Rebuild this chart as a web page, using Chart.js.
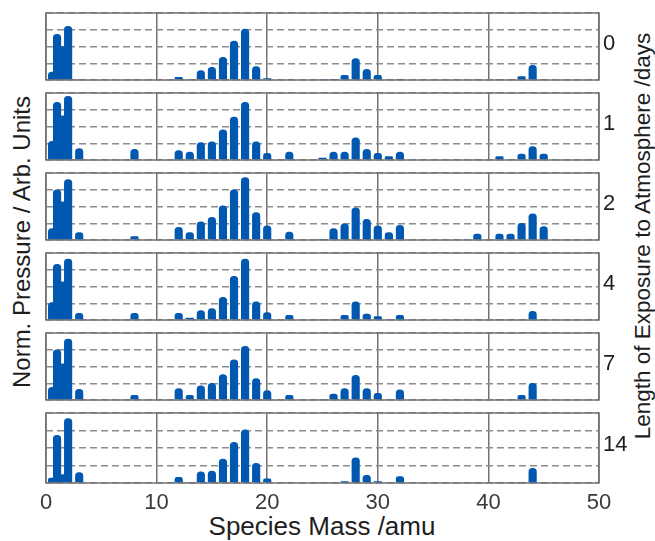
<!DOCTYPE html>
<html>
<head>
<meta charset="utf-8">
<script src="https://cdn.jsdelivr.net/npm/chart.js@4.4.1/dist/chart.umd.min.js"></script>
<style>
  body { margin: 0; background: #fff; font-family: 'Liberation Sans', Arial, sans-serif; }
  #wrap { position: relative; width: 655px; height: 541px; overflow: hidden; }
  #wrap canvas { position: absolute; left: 0; }
  .title { position: absolute; color: #1e1e1e; white-space: nowrap; transform: translate(-50%, -50%); }
</style>
</head>
<body>
<div id="wrap">
  <div class="title" id="yTitle" style="left:22px; top:242px; font-size:24px; transform: translate(-50%, -50%) rotate(-90deg);">Norm. Pressure / Arb. Units</div>
  <div class="title" id="rTitle" style="left:643px; top:236px; font-size:22.5px; transform: translate(-50%, -50%) rotate(-90deg);">Length of Exposure to Atmosphere /days</div>
  <div class="title" id="xTitle" style="left:322px; top:526px; font-size:26px;">Species Mass /amu</div>
</div>
<script>
// peak positions (amu) shared by all spectra
const masses = [0.55, 1, 1.5, 2, 3, 8, 12, 13, 14, 15, 16, 17, 18, 19, 20, 22, 25, 26, 27, 28, 29, 30, 31, 32, 39, 41, 42, 43, 44, 45];

// normalised peak heights, one list per exposure time
const day0  = [0.12, 0.68, 0.50, 0.80, 0,    0,    0.04, 0,    0.14, 0.19, 0.34, 0.58, 0.76, 0.20, 0.02, 0,    0,    0.01, 0.07, 0.32, 0.16, 0.07, 0,    0.01, 0,    0,    0,    0.05, 0.22, 0];
const day1  = [0.28, 0.86, 0.66, 0.95, 0.17, 0.16, 0.14, 0.12, 0.26, 0.27, 0.45, 0.64, 0.86, 0.27, 0.10, 0.12, 0.03, 0.12, 0.12, 0.33, 0.16, 0.10, 0.05, 0.12, 0,    0.05, 0,    0.09, 0.20, 0.09];
const day2  = [0.17, 0.75, 0.57, 0.90, 0.11, 0.05, 0.19, 0.11, 0.27, 0.34, 0.51, 0.75, 0.93, 0.41, 0.21, 0.12, 0.01, 0.17, 0.24, 0.48, 0.31, 0.21, 0.11, 0.22, 0.09, 0.09, 0.09, 0.25, 0.39, 0.20];
const day4  = [0.26, 0.83, 0.57, 0.91, 0.10, 0.10, 0.10, 0.03, 0.14, 0.17, 0.34, 0.65, 0.91, 0.27, 0.11, 0.07, 0,    0,    0.07, 0.27, 0.09, 0.05, 0,    0.07, 0,    0,    0,    0,    0.13, 0];
const day7  = [0.19, 0.75, 0.54, 0.91, 0.16, 0.07, 0.17, 0.07, 0.21, 0.25, 0.38, 0.60, 0.80, 0.32, 0.14, 0.07, 0,    0.09, 0.17, 0.37, 0.17, 0.10, 0,    0.15, 0,    0,    0,    0.07, 0.25, 0];
const day14 = [0.07, 0.68, 0.12, 0.92, 0.15, 0,    0.08, 0,    0.16, 0.17, 0.34, 0.58, 0.76, 0.28, 0.06, 0,    0,    0,    0.02, 0.36, 0.11, 0.02, 0,    0.09, 0,    0,    0,    0.01, 0.21, 0];

const dayLabels = ['0', '1', '2', '4', '7', '14'];
const spectra = [day0, day1, day2, day4, day7, day14];
const xTicks = [0, 10, 20, 30, 40, 50];

const FONT = '"Liberation Sans", Arial, sans-serif';
const BLUE = '#0058b0';

// box round each panel plus the day label on its right
const framePlugin = {
    id: 'frame',
    afterDraw(chart, args, opts) {
        const ctx = chart.ctx;
        const a = chart.chartArea;
        ctx.save();
        ctx.strokeStyle = '#737373';
        ctx.lineWidth = 1.5;
        ctx.strokeRect(a.left, a.top, a.right - a.left, a.bottom - a.top);
        ctx.fillStyle = '#1e1e1e';
        ctx.font = '22px ' + FONT;
        ctx.textBaseline = 'middle';
        ctx.fillText(opts.label, a.right + 4, (a.top + a.bottom) / 2 - 3);
        ctx.restore();
    }
};

const wrap = document.getElementById('wrap');
const panelTop = 13, panelStep = 80, panelHeight = 67;

spectra.forEach((heights, i) => {
    const last = i === spectra.length - 1;
    const canvas = document.createElement('canvas');
    const h = panelHeight + 6 + (last ? 40 : 0);
    canvas.width = 655;
    canvas.height = h;
    canvas.style.top = (panelTop + panelStep * i - 3) + 'px';
    wrap.appendChild(canvas);

    new Chart(canvas.getContext('2d'), {
        type: 'bar',
        data: {
            datasets: [{
                data: masses.map((m, k) => ({ x: m, y: heights[k] })),
                backgroundColor: BLUE,
                borderWidth: 0,
                barThickness: 7.5,
                borderRadius: 4,
                borderSkipped: 'start'
            }]
        },
        options: {
            responsive: false,
            animation: false,
            layout: { padding: { left: 46, right: 56, top: 3, bottom: last ? 0 : 3 } },
            plugins: {
                legend: { display: false },
                tooltip: { enabled: false },
                frame: { label: dayLabels[i] }
            },
            scales: {
                x: {
                    type: 'linear',
                    min: 0,
                    max: 50,
                    offset: false,
                    afterBuildTicks: s => { s.ticks = xTicks.map(v => ({ value: v })); },
                    afterFit: s => { s.height = last ? 40 : 0; },
                    grid: { offset: false, color: '#737373', lineWidth: 1.5, drawTicks: false },
                    border: { display: false },
                    ticks: {
                        display: last,
                        padding: 7,
                        color: '#3a3a3a',
                        font: { family: FONT, size: 22 }
                    }
                },
                y: {
                    min: 0,
                    max: 1,
                    afterFit: s => { s.width = 0; },
                    ticks: { display: false, stepSize: 0.25 },
                    grid: { color: '#8c8c8c', lineWidth: 1.5, drawTicks: false },
                    border: { display: false, dash: [7, 4] }
                }
            }
        },
        plugins: [framePlugin]
    });
});
</script>
</body>
</html>
